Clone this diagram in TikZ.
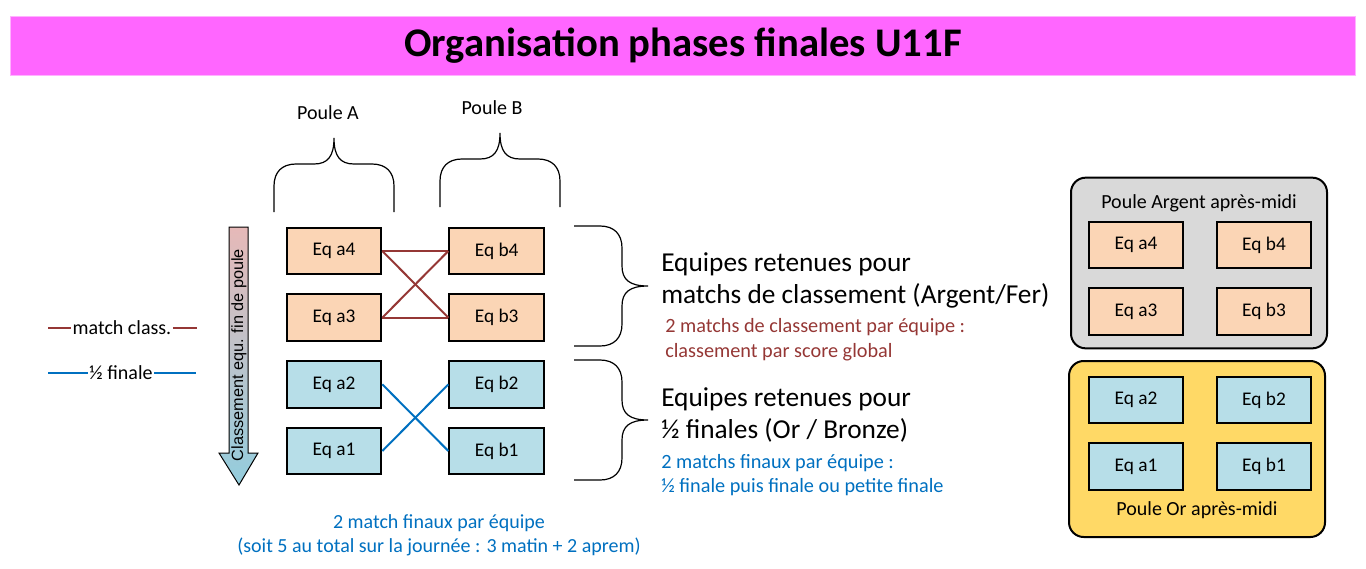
\documentclass[tikz,border=0pt]{standalone}
\usepackage{fontspec}
\setmainfont{Carlito}
\newfontfamily\arialfont{Liberation Sans}
\usetikzlibrary{positioning}

\definecolor{titrerose}{HTML}{FF66FF}
\definecolor{peche}{HTML}{FBD5B5}
\definecolor{bleuclair}{HTML}{B7DEE8}
\definecolor{grisclair}{HTML}{D9D9D9}
\definecolor{jaune}{HTML}{FFD966}
\definecolor{brique}{HTML}{953735}
\definecolor{bleumatch}{HTML}{0070C0}
\definecolor{rosefleche}{HTML}{E6B9B8}
\definecolor{bleufleche}{HTML}{93CDDD}

\tikzset{
  equipe/.style={draw, line width=1.5pt, minimum width=71pt, minimum height=35pt,
    inner sep=0pt, font=\fontsize{14.5}{17}\selectfont},
  panneau/.style={draw, line width=1.5pt, rounded corners=11pt},
  texte/.style={inner sep=0pt, font=\fontsize{15}{18}\selectfont},
  lienclass/.style={draw, brique, line width=1.5pt},
  lienfinale/.style={draw, bleumatch, line width=1.5pt},
  accolade/.pic={
    \draw[line width=0.9pt] (0,-60) -- (26,-60) .. controls (40,-60) and (48,-52) .. (48,-38)
      -- (48,-20) .. controls (48,-6) and (56,0) .. (74,0)
      .. controls (56,0) and (48,6) .. (48,20) -- (48,38)
      .. controls (48,52) and (40,60) .. (26,60) -- (0,60);
  }
}

\begin{document}
\begin{tikzpicture}[x=0.75pt,y=-0.75pt,node distance=50pt]
  \useasboundingbox (0,0) rectangle (1366,568);

  % titre
  \node[fill=titrerose, draw=titrerose!50, line width=0.75pt, minimum width=1009pt,
    minimum height=44pt, font=\fontsize{30.5}{34}\selectfont\bfseries] (titre) at (683,46)
    {Organisation phases finales U11F};

  % poules du matin
  \node[texte] (pouleA) at (328,113) {Poule A};
  \node[texte] (pouleB) at (492,108) {Poule B};
  \pic[rotate=90] at (334,212) {accolade};
  \pic[rotate=90] at (500,207) {accolade};

  \node[equipe, fill=peche] (a4) at (334,251) {Eq a4};
  \node[equipe, fill=peche, below of=a4] (a3) {Eq a3};
  \node[equipe, fill=bleuclair, below of=a3] (a2) {Eq a2};
  \node[equipe, fill=bleuclair, below of=a2] (a1) {Eq a1};
  \node[equipe, fill=peche, right of=a4, node distance=122pt] (b4) {Eq b4};
  \node[equipe, fill=peche, below of=b4] (b3) {Eq b3};
  \node[equipe, fill=bleuclair, below of=b3] (b2) {Eq b2};
  \node[equipe, fill=bleuclair, below of=b2] (b1) {Eq b1};

  \path[lienclass]
    (a4.east) edge (b4.west)
    (a4.east) edge (b3.west)
    (a3.east) edge (b4.west)
    (a3.east) edge (b3.west);
  \path[lienfinale]
    (a2.east) edge (b1.west)
    (a1.east) edge (b2.west);

  % fleche classement
  \draw[line width=0.75pt, top color=rosefleche, bottom color=bleufleche]
    (229,227) -- (248,227) -- (248,453) -- (258,453) -- (239,485) -- (219,453)
    -- (229,453) -- cycle;
  \node[rotate=90, inner sep=0pt, font=\arialfont\fontsize{12.2}{14}\selectfont]
    (classement) at (239,355) {Classement equ. fin de poule};

  % legende
  \node[texte, inner sep=1pt] (legclass) at (122,328) {match class.};
  \node[texte, inner sep=1pt] (legfinale) at (121,373) {½ finale};
  \coordinate (lc1) at (48,328);
  \coordinate (lc2) at (197,328);
  \coordinate (lf1) at (48,373);
  \coordinate (lf2) at (196,373);
  \draw[lienclass] (lc1) -- (legclass.west) (legclass.east) -- (lc2);
  \draw[lienfinale] (lf1) -- (legfinale.west) (legfinale.east) -- (lf2);

  % equipes retenues
  \pic at (574,286) {accolade};
  \pic at (574,420) {accolade};
  \node[inner sep=0pt, anchor=west, align=left, font=\fontsize{20.5}{24}\selectfont]
    (retclass) at (661,280) {Equipes retenues pour\\matchs de classement (Argent/Fer)};
  \node[inner sep=0pt, anchor=west, align=left, text=brique, font=\fontsize{15.2}{18.75}\selectfont]
    (detclass) at (665,340) {2 matchs de classement par équipe :\\classement par score global};
  \node[inner sep=0pt, anchor=west, align=left, font=\fontsize{20.5}{24}\selectfont]
    (retfinale) at (661,415) {Equipes retenues pour\\½ finales (Or / Bronze)};
  \node[inner sep=0pt, anchor=west, align=left, text=bleumatch, font=\fontsize{15.2}{17.5}\selectfont]
    (detfinale) at (661,475) {2 matchs finaux par équipe :\\½ finale puis finale ou petite finale};

  \node[inner sep=0pt, align=center, text=bleumatch, font=\fontsize{15}{18}\selectfont]
    (total) at (439,535) {2 match finaux par équipe\\(soit 5 au total sur la journée : 3 matin + 2 aprem)};

  % poules de l'apres-midi
  \node[panneau, fill=grisclair, minimum width=192pt, minimum height=128pt] (argent) at (1199,263) {};
  \node[texte] (largent) at (1199,203) {Poule Argent après-midi};
  \node[equipe, fill=peche] (ra4) at (1136,245) {Eq a4};
  \node[equipe, fill=peche, right of=ra4, node distance=96pt] (rb4) {Eq b4};
  \node[equipe, fill=peche, below of=ra4] (ra3) {Eq a3};
  \node[equipe, fill=peche, below of=rb4] (rb3) {Eq b3};

  \node[panneau, fill=jaune, minimum width=192pt, minimum height=132pt] (or) at (1197,449) {};
  \node[texte] (lor) at (1197,510) {Poule Or après-midi};
  \node[equipe, fill=bleuclair] (ra2) at (1136,400) {Eq a2};
  \node[equipe, fill=bleuclair, right of=ra2, node distance=96pt] (rb2) {Eq b2};
  \node[equipe, fill=bleuclair, below of=ra2] (ra1) {Eq a1};
  \node[equipe, fill=bleuclair, below of=rb2] (rb1) {Eq b1};

\end{tikzpicture}
\end{document}
